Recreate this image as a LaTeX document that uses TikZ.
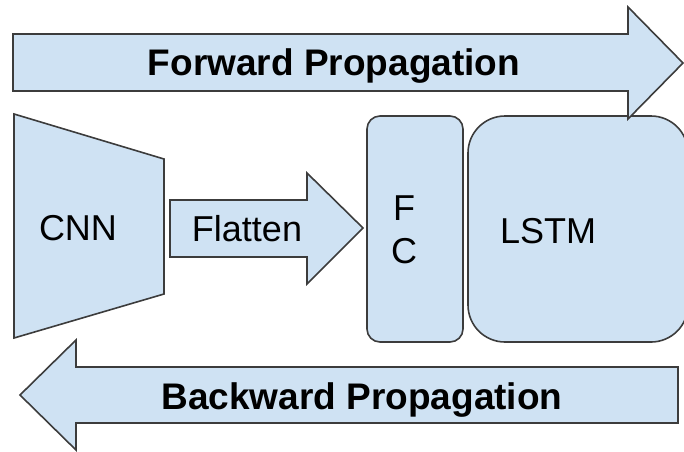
\documentclass[tikz,border=0pt]{standalone}
\usepackage{fontspec}
\setmainfont{Liberation Sans}
\definecolor{boxfill}{HTML}{CFE2F3}
\definecolor{boxline}{HTML}{3C3C3C}
\tikzset{
  blk/.style={fill=boxfill, draw=boxline, line width=1.6pt, line join=miter},
  lbl/.style={font=\fontsize{36}{43}\selectfont, text=black, inner sep=0pt, anchor=base},
  blbl/.style={font=\bfseries\fontsize{37}{43}\selectfont, text=black, inner sep=0pt, anchor=base}
}
\begin{document}
\begin{tikzpicture}[x=1pt,y=-1pt]
\useasboundingbox (0,0) rectangle (684,451);
% CNN trapezoid
\draw[blk] (14,114) -- (164,159) -- (164,294) -- (14,338) -- cycle;
\node[lbl] (cnn) at (78,240) {CNN};
% Flatten arrow
\draw[blk] (170,200) -- (307,200) -- (307,173) -- (363,228) -- (307,284) -- (307,257) -- (170,257) -- cycle;
\node[lbl] (flat) at (247,241) {Flatten};
% FC box
\node[blk, rounded corners=13pt, minimum width=96pt, minimum height=226pt, inner sep=0pt] (fc) at (415,229) {};
\node[lbl, align=center, anchor=base] (fct) at (404,263) {F\\C};
% LSTM box
\node[blk, rounded corners=37pt, minimum width=220pt, minimum height=226pt, inner sep=0pt] (lstm) at (578,229) {};
\node[lbl] (lstmt) at (548,243) {LSTM};
% Forward arrow
\draw[blk] (13,34) -- (628,34) -- (628,7) -- (683,63) -- (628,119) -- (628,91) -- (13,91) -- cycle;
\node[blbl] (fwd) at (334,75) {Forward Propagation};
% Backward arrow
\draw[blk] (20,395) -- (76,340) -- (76,367) -- (678,367) -- (678,423) -- (76,423) -- (76,450) -- cycle;
\node[blbl] (bwd) at (362,409) {Backward Propagation};
\end{tikzpicture}
\end{document}
